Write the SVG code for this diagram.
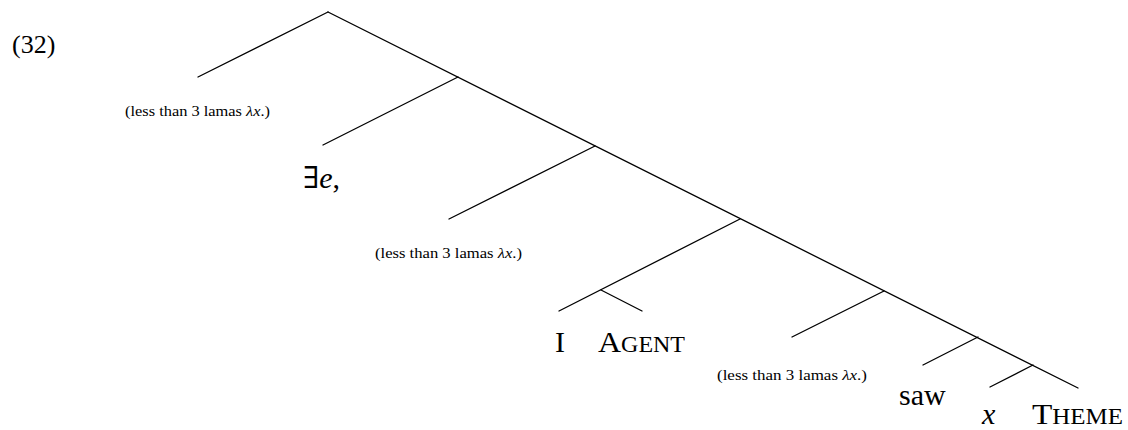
<svg xmlns="http://www.w3.org/2000/svg" width="1128" height="430" viewBox="0 0 1128 430">
<style>
.e{stroke:#000;stroke-width:1.3;fill:none;stroke-linecap:round}
text{font-family:"Liberation Serif","DejaVu Serif",serif;fill:#000}
.big{font-size:30px}
.sm{font-size:14px}
.sc{font-size:22.5px}
.it{font-style:italic}
</style>
<rect width="1128" height="430" fill="#fff"/>
<text x="12" y="53" style="font-size:26px">(32)</text>
<g id="edges">
<line class="e" x1="328" y1="12" x2="1078" y2="388"/>
<line class="e" x1="328" y1="12" x2="198" y2="77"/>
<line class="e" x1="458" y1="77" x2="323" y2="145"/>
<line class="e" x1="595" y1="146" x2="449" y2="219"/>
<line class="e" x1="740" y1="219" x2="559" y2="311"/>
<line class="e" x1="601" y1="290" x2="642" y2="311"/>
<line class="e" x1="884" y1="291" x2="792" y2="337"/>
<line class="e" x1="978" y1="337" x2="923" y2="365"/>
<line class="e" x1="1033" y1="365" x2="990" y2="387"/>
</g>
<g id="n1"><text class="sm" x="125" y="116" textLength="145" lengthAdjust="spacingAndGlyphs">(less than 3 lamas <tspan class="it">λx</tspan>.)</text></g>
<g id="n2"><text class="big" x="303" y="188">∃<tspan class="it">e</tspan>,</text></g>
<g id="n3"><text class="sm" x="375" y="258" textLength="147" lengthAdjust="spacingAndGlyphs">(less than 3 lamas <tspan class="it">λx</tspan>.)</text></g>
<g id="n4"><text class="big" x="555" y="352">I</text></g>
<g id="n5"><text class="big" x="598" y="352" textLength="87" lengthAdjust="spacingAndGlyphs">A<tspan class="sc">GENT</tspan></text></g>
<g id="n6"><text class="sm" x="717" y="380" textLength="150" lengthAdjust="spacingAndGlyphs">(less than 3 lamas <tspan class="it">λx</tspan>.)</text></g>
<g id="n7"><text class="big" x="899" y="405">saw</text></g>
<g id="n8"><text class="big it" x="982" y="424">x</text></g>
<g id="n9"><text class="big" x="1032" y="424" textLength="91" lengthAdjust="spacingAndGlyphs">T<tspan class="sc">HEME</tspan></text></g>
</svg>
